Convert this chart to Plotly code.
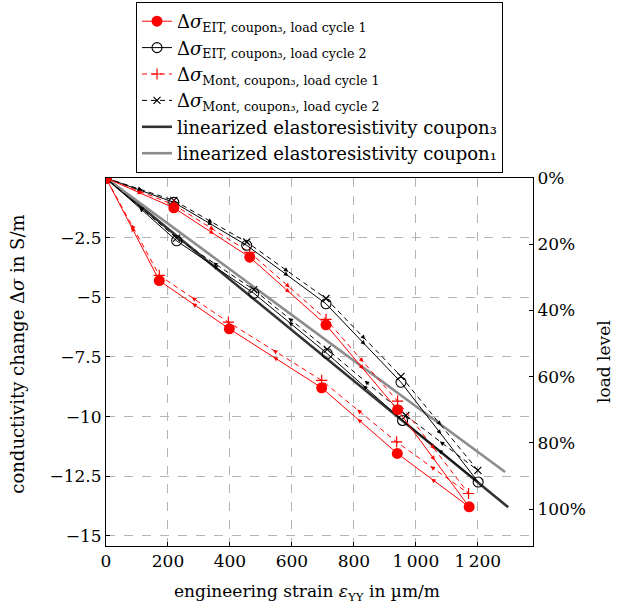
import math
import plotly.graph_objects as go

# ---- data -------------------------------------------------------------
# EIT conductivity change, coupon 3, load cycle 1 (loading then unloading)
eit1_strain = [0, 219, 464, 710, 941, 1172, 940, 696, 398, 172, 0]
eit1_dsigma = [0, -1.25, -3.32, -6.15, -9.71, -13.78, -11.54, -8.79, -6.32, -4.30, 0]

# EIT conductivity change, coupon 3, load cycle 2
eit2_strain = [0, 219, 454, 710, 952, 1201, 957, 714, 477, 228, 0]
eit2_dsigma = [0, -1.02, -2.82, -5.27, -8.56, -12.74, -10.16, -7.36, -4.83, -2.63, 0]

# Montgomery conductivity change, coupon 3, load cycle 1
mont1_strain = [0, 219, 464, 710, 941, 1170, 938, 696, 395, 172, 0]
mont1_dsigma = [0, -1.12, -3.12, -5.92, -9.35, -13.22, -11.06, -8.48, -6.04, -4.08, 0]

# Montgomery conductivity change, coupon 3, load cycle 2
mont2_strain = [0, 219, 454, 710, 952, 1200, 968, 714, 477, 228, 0]
mont2_dsigma = [0, -0.94, -2.68, -5.05, -8.31, -12.25, -9.95, -7.18, -4.68, -2.52, 0]

# linearized elastoresistivity
lin3_strain = [0, 1298]
lin3_dsigma = [0, -13.8]
lin1_strain = [0, 1288]
lin1_dsigma = [0, -12.32]

x_ticks = [0, 200, 400, 600, 800, 1000, 1200]
x_ticktext = ["0", "200", "400", "600", "800", "1\u2009000", "1\u2009200"]
y_ticks = [-2.5, -5, -7.5, -10, -12.5, -15]
y_ticktext = ["\u22122.5", "\u22125", "\u22127.5", "\u221210", "\u221212.5", "\u221215"]
load_ticks = [0, 20, 40, 60, 80, 100]
load_ticktext = ["0%", "20%", "40%", "60%", "80%", "100%"]

# ---- layout geometry ----------------------------------------------------
W, H = 623, 608
ML, MR, MT, MB = 106, 90, 178, 62
X_RANGE = [0, 1378]
Y_RANGE = [-15.42, 0]
LOAD_RANGE = [111.1, 0]
plot_w = W - ML - MR
plot_h = H - MT - MB
sx = plot_w / (X_RANGE[1] - X_RANGE[0])
sy = plot_h / (Y_RANGE[1] - Y_RANGE[0])

FONT = "DejaVu Serif"
RED = "#ff0000"
BLACK = "#000000"
TICK_SIZE = 17
TITLE_SIZE = 17
LEGEND_SIZE = 18

fig = go.Figure()

fig.add_trace(go.Scatter(
    x=lin3_strain, y=lin3_dsigma, mode="lines",
    line=dict(color="#333333", width=2.6),
    name="linearized elastoresistivity coupon\u2083", legendrank=5))
fig.add_trace(go.Scatter(
    x=lin1_strain, y=lin1_dsigma, mode="lines",
    line=dict(color="#8c8c8c", width=2.6),
    name="linearized elastoresistivity coupon\u2081", legendrank=6))

fig.add_trace(go.Scatter(
    x=mont2_strain, y=mont2_dsigma, mode="lines+markers",
    line=dict(color=BLACK, width=1, dash="5px,4px"),
    marker=dict(symbol="x-thin", size=7, line=dict(color=BLACK, width=1.2)),
    name="\u0394<i>\u03c3</i><sub>Mont, coupon\u2083, load cycle 2</sub>", legendrank=4))
fig.add_trace(go.Scatter(
    x=mont1_strain, y=mont1_dsigma, mode="lines+markers",
    line=dict(color=RED, width=1, dash="5px,4px"),
    marker=dict(symbol="cross-thin", size=8, line=dict(color=RED, width=1.2)),
    name="\u0394<i>\u03c3</i><sub>Mont, coupon\u2083, load cycle 1</sub>", legendrank=3))
fig.add_trace(go.Scatter(
    x=eit2_strain, y=eit2_dsigma, mode="lines+markers",
    line=dict(color=BLACK, width=1),
    marker=dict(symbol="circle-open", size=10, color=BLACK, line=dict(width=1.1)),
    name="\u0394<i>\u03c3</i><sub>EIT, coupon\u2083, load cycle 2</sub>", legendrank=2))
fig.add_trace(go.Scatter(
    x=eit1_strain, y=eit1_dsigma, mode="lines+markers",
    line=dict(color=RED, width=1),
    marker=dict(symbol="circle", size=11, color=RED),
    name="\u0394<i>\u03c3</i><sub>EIT, coupon\u2083, load cycle 1</sub>", legendrank=1))

# invisible trace so the load-level axis is drawn
fig.add_trace(go.Scatter(x=[0], y=[0], yaxis="y2", mode="markers",
                         marker=dict(opacity=0), showlegend=False, hoverinfo="skip"))

# small direction arrows at the middle of every segment
annotations = []
for xs, ys, col in [(eit1_strain, eit1_dsigma, RED), (eit2_strain, eit2_dsigma, BLACK),
                    (mont1_strain, mont1_dsigma, RED), (mont2_strain, mont2_dsigma, BLACK)]:
    for i in range(len(xs) - 1):
        x0, y0, x1, y1 = xs[i], ys[i], xs[i + 1], ys[i + 1]
        dxp = (x1 - x0) * sx
        dyp = -(y1 - y0) * sy
        n = math.hypot(dxp, dyp)
        if n < 1e-6:
            continue
        ux, uy = dxp / n, dyp / n
        L = 5
        annotations.append(dict(
            x=(x0 + x1) / 2 + ux * L / 2 / sx, y=(y0 + y1) / 2 - uy * L / 2 / sy,
            xref="x", yref="y", ax=-ux * L, ay=-uy * L,
            showarrow=True, arrowhead=2, arrowsize=1.0, arrowwidth=0.9,
            arrowcolor=col, text="", standoff=0))

# axis titles
annotations += [
    dict(text="conductivity change \u0394<i>\u03c3</i> in S/m", xref="paper", yref="paper",
         x=(18 - ML) / plot_w, y=0.52, textangle=-90, showarrow=False,
         xanchor="center", yanchor="middle", font=dict(size=18)),
    dict(text="engineering strain <i>\u03b5</i><sub>YY</sub> in \u00b5m/m", xref="paper", yref="paper",
         x=(307 - ML) / plot_w, y=(MT + plot_h - 592) / plot_h, showarrow=False,
         xanchor="center", yanchor="middle", font=dict(size=TITLE_SIZE)),
    dict(text="load level", xref="paper", yref="paper",
         x=(604 - ML) / plot_w, y=0.5, textangle=-90, showarrow=False,
         xanchor="center", yanchor="middle", font=dict(size=TITLE_SIZE)),
]

fig.update_layout(
    width=W, height=H,
    margin=dict(l=ML, r=MR, t=MT, b=MB, autoexpand=False),
    plot_bgcolor="white", paper_bgcolor="white",
    font=dict(family=FONT, size=TICK_SIZE, color="black"),
    showlegend=True,
    legend=dict(x=0.5, y=1 + (MT - 2) / plot_h, xanchor="center", yanchor="top",
                bgcolor="white", bordercolor="black", borderwidth=1,
                font=dict(family=FONT, size=LEGEND_SIZE), tracegroupgap=0,
                traceorder="normal"),
    annotations=annotations,
    xaxis=dict(range=X_RANGE, tickvals=x_ticks, ticktext=x_ticktext,
               showgrid=True, gridcolor="#b4b4b4", griddash="dash", gridwidth=1,
               showline=True, linecolor="black", linewidth=1, mirror=True,
               ticks="inside", ticklen=4, tickcolor="black", zeroline=False,
               tickfont=dict(size=TICK_SIZE)),
    yaxis=dict(range=Y_RANGE, tickvals=y_ticks, ticktext=y_ticktext,
               showgrid=True, gridcolor="#b4b4b4", griddash="dash", gridwidth=1,
               showline=True, linecolor="black", linewidth=1, mirror=True,
               ticks="inside", ticklen=4, tickcolor="black", zeroline=False,
               tickfont=dict(size=TICK_SIZE)),
    yaxis2=dict(range=LOAD_RANGE, overlaying="y", side="right",
                tickvals=load_ticks, ticktext=load_ticktext, showgrid=False,
                showline=True, linecolor="black", linewidth=1,
                ticks="inside", ticklen=4, tickcolor="black", zeroline=False,
                tickfont=dict(size=TICK_SIZE)),
)

fig.write_html("out.html")
